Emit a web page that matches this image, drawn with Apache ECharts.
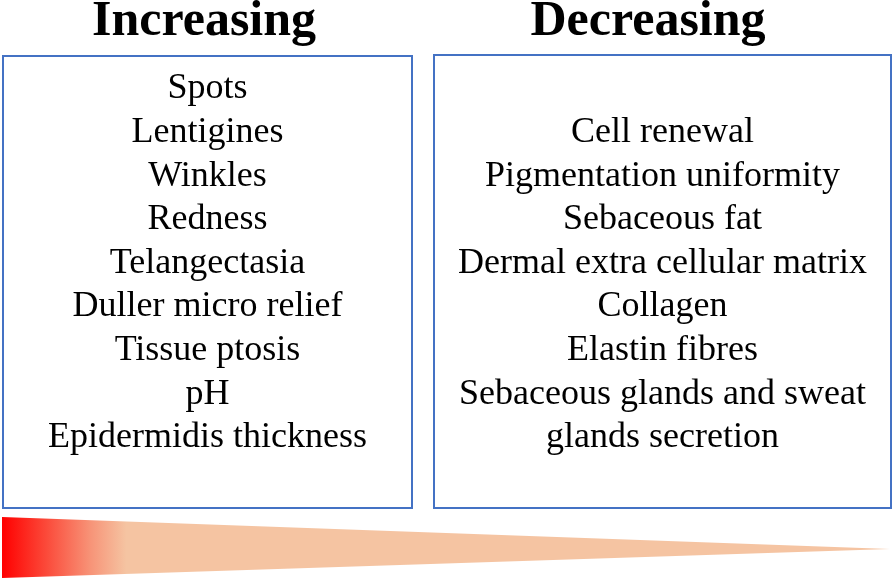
<!DOCTYPE html>
<html>
<head>
<meta charset="utf-8">
<script src="https://cdn.jsdelivr.net/npm/echarts@6/dist/echarts.min.js"></script>
<style>html,body{margin:0;padding:0;background:#fff}#c{width:894px;height:580px}</style>
</head>
<body>
<div id="c"></div>
<script>
var titles = ['Increasing', 'Decreasing'];
var increasingItems = ['Spots', 'Lentigines', 'Winkles', 'Redness', 'Telangectasia', 'Duller micro relief', 'Tissue ptosis', 'pH', 'Epidermidis thickness'];
var decreasingItems = ['', 'Cell renewal', 'Pigmentation uniformity', 'Sebaceous fat', 'Dermal extra cellular matrix', 'Collagen', 'Elastin fibres', 'Sebaceous glands and sweat', 'glands secretion'];

var chart = echarts.init(document.getElementById('c'), null, {renderer: 'canvas'});
var FONT = '"Liberation Serif", "Times New Roman", serif';
var boxes = [{x: 3, y: 56, w: 409, h: 452}, {x: 434, y: 55, w: 457, h: 453}];
var titleX = [204, 648];
var lists = [increasingItems, decreasingItems];
var firstY = 89, step = 43.6;
var elements = [];

boxes.forEach(function (b, k) {
  var cx = b.x + b.w / 2;
  elements.push({
    type: 'rect',
    shape: {x: b.x, y: b.y, width: b.w, height: b.h},
    style: {fill: '#fff', stroke: '#4472c4', lineWidth: 2}
  });
  elements.push({
    type: 'text',
    x: titleX[k], y: 22,
    style: {text: titles[k], font: 'bold 50px ' + FONT, fill: '#000', align: 'center', verticalAlign: 'middle'}
  });
  lists[k].forEach(function (t, i) {
    if (!t) return;
    elements.push({
      type: 'text',
      x: cx, y: firstY + i * step,
      style: {text: t, font: '36px ' + FONT, fill: '#000', align: 'center', verticalAlign: 'middle'}
    });
  });
});

elements.push({
  type: 'polygon',
  shape: {points: [[2, 517], [890, 549], [2, 578]]},
  style: {
    fill: new echarts.graphic.LinearGradient(0, 0, 1, 0, [
      {offset: 0, color: '#ff0000'},
      {offset: 0.05, color: '#fb4a3a'},
      {offset: 0.1, color: '#f79478'},
      {offset: 0.14, color: '#f5c4a2'},
      {offset: 1, color: '#f5c4a2'}
    ])
  }
});

chart.setOption({
  backgroundColor: '#fff',
  animation: false,
  graphic: {elements: elements}
});
</script>
</body>
</html>
